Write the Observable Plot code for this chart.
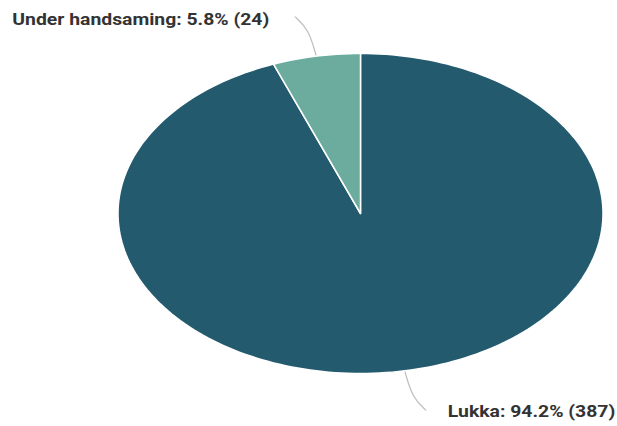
<!DOCTYPE html>
<html>
<head>
<meta charset="utf-8">
<script src="https://cdn.jsdelivr.net/npm/d3@7"></script>
<script src="https://cdn.jsdelivr.net/npm/@observablehq/plot@0.6"></script>
<style>
  html, body { margin: 0; padding: 0; background: #fff; }
  #chart svg { display: block; }
</style>
</head>
<body>
<div id="chart"></div>
<script>
// Data
const categories = ["Lukka", "Under handsaming"];
const counts = [387, 24];
const percents = [94.2, 5.8];
const colors = ["#245a6e", "#6bac9f"];

const rows = categories.map((name, i) => ({ name, count: counts[i], pct: percents[i] }));
const arcs = d3.pie().sort(null).value(d => d.count)(rows);

// Wedge polygons in unit-circle coordinates (angle measured clockwise from top)
const wedgePts = [];
arcs.forEach(a => {
  const n = Math.max(4, Math.ceil((a.endAngle - a.startAngle) / (Math.PI * 2) * 240));
  wedgePts.push({ name: a.data.name, x: 0, y: 0 });
  for (let k = 0; k <= n; k++) {
    const t = a.startAngle + (a.endAngle - a.startAngle) * k / n;
    wedgePts.push({ name: a.data.name, x: Math.sin(t), y: Math.cos(t) });
  }
  wedgePts.push({ name: a.data.name, x: 0, y: 0 });
});

// Layout
const W = 617, H = 426;
const mL = 117.5, mR = 14.5, mT = 53, mB = 53;
const pxX = 1 / ((W - mL - mR) / 2); // data units per px horizontally

// Leader lines
const leaderPts = [];
const labels = [];
arcs.forEach(a => {
  const m = (a.startAngle + a.endAngle) / 2;
  const sx = Math.sin(m), sy = Math.cos(m);
  const side = sx < 0 ? -1 : 1;
  const pts = [
    { x: sx * 1.0, y: sy * 1.0 },
    { x: sx * 1.17, y: sy * 1.17 },
    { x: sx * 1.25 + side * 10 * pxX, y: sy * 1.25 }
  ];
  pts.forEach(p => leaderPts.push({ name: a.data.name, ...p }));
  const end = pts[2];
  labels.push({
    name: a.data.name,
    x: end.x, y: end.y, side,
    text: `${a.data.name}: ${a.data.pct.toFixed(1)}% (${a.data.count})`
  });
});

const chart = Plot.plot({
  width: W,
  height: H,
  marginLeft: mL,
  marginRight: mR,
  marginTop: mT,
  marginBottom: mB,
  x: { domain: [-1, 1], axis: null },
  y: { domain: [-1, 1], axis: null },
  color: { domain: categories, range: colors },
  style: { background: "#fff", overflow: "visible" },
  marks: [
    Plot.line(leaderPts, { x: "x", y: "y", z: "name", stroke: "#bdbdbd", strokeWidth: 1.2, curve: "basis" }),
    Plot.line(wedgePts, { x: "x", y: "y", z: "name", fill: "name", stroke: "white", strokeWidth: 1.5, strokeLinejoin: "round" }),
    Plot.text(labels.filter(d => d.side < 0), {
      x: "x", y: "y", text: "text", textAnchor: "end", dx: -26, dy: 3,
      fontSize: 16, fontWeight: "bold", fill: "#333", fontFamily: "Roboto, 'Liberation Sans', sans-serif"
    }),
    Plot.text(labels.filter(d => d.side > 0), {
      x: "x", y: "y", text: "text", textAnchor: "start", dx: 22, dy: 2,
      fontSize: 16, fontWeight: "bold", fill: "#333", fontFamily: "Roboto, 'Liberation Sans', sans-serif"
    })
  ]
});
document.getElementById("chart").append(chart);

// The reference renders its labels slightly stretched horizontally
chart.querySelectorAll("text").forEach(t => {
  const len = t.getComputedTextLength();
  if (len > 0) {
    t.setAttribute("textLength", (len * 1.21).toFixed(1));
    t.setAttribute("lengthAdjust", "spacingAndGlyphs");
  }
});
</script>
</body>
</html>
